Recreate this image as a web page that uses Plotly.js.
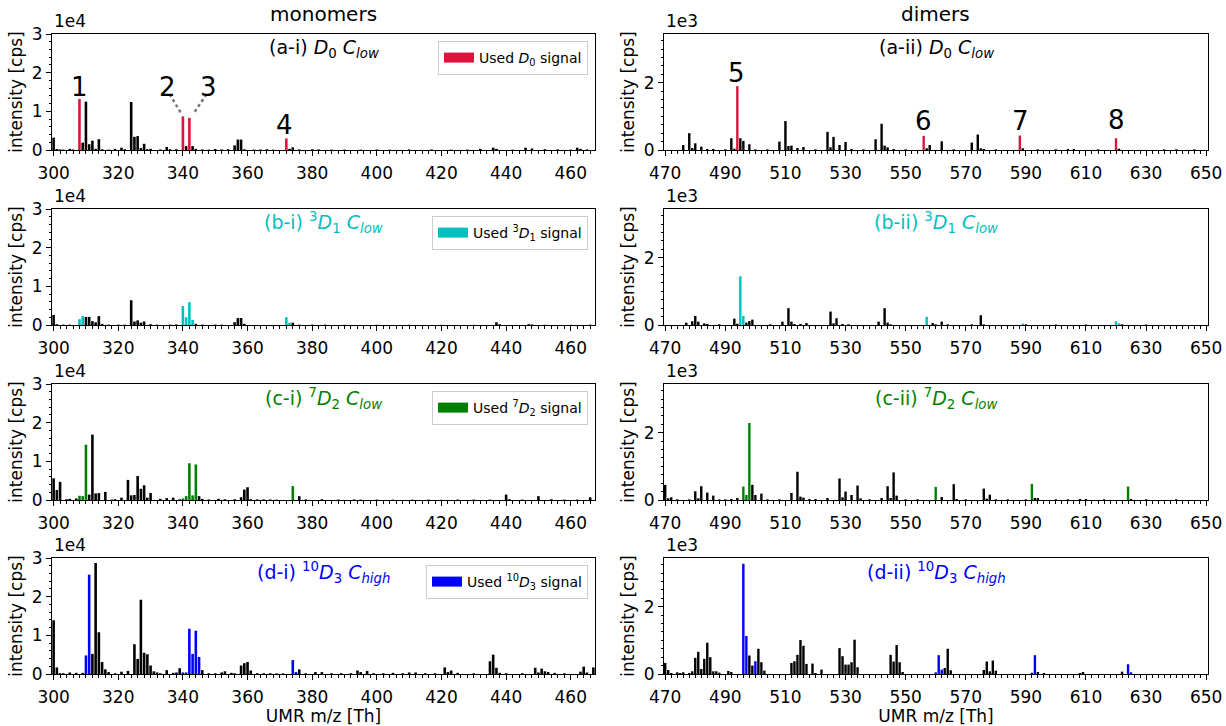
<!DOCTYPE html>
<html><head><meta charset="utf-8">
<script src="https://cdn.plot.ly/plotly-3.0.1.min.js"></script>
<style>html,body{margin:0;padding:0;background:#fff}#chart{width:1226px;height:726px}</style>
</head><body><div id="chart"></div>
<script>
// ---------------- data (UMR m/z, intensity in cps) ----------------
// (a-i) D0 Clow, monomers
const aiBlackX = [300,301,302,303,305,306,309,310,311,312,313,314,315,317,319,321,322,324,325,326,327,328,329,330,333,335,336,338,341,343,344,346,348,350,352,354,356,357,358,359,362,364,366,368,373,374,376,380,382,386,390,395,400,404,410,417,423,428,432,436,437,442,446,448,452,456,460,462,463,465];
const aiBlackY = [3200,250,150,100,300,150,1900,12500,1500,2400,300,2800,200,100,300,600,200,12400,3400,3600,500,1600,200,300,150,800,200,200,1000,1000,300,150,100,250,150,200,1200,2700,2700,200,100,150,200,100,300,700,150,200,150,100,100,100,150,100,150,150,100,100,300,600,300,100,600,400,200,150,100,600,300,150];
const aiUsedX = [308,340,342,372];
const aiUsedY = [13200,8700,8300,3000];
// (a-ii) D0 Clow, dimers
const aiiBlackX = [476,478,479,480,482,484,486,490,492,493,495,496,498,500,504,508,510,511,512,514,516,520,524,525,526,528,530,532,536,540,542,543,544,546,550,557,558,562,566,572,574,575,576,580,589,594,600,604,606,614,621,636,640,646];
const aiiBlackY = [150,500,60,200,100,30,30,20,350,40,350,270,170,20,20,250,860,120,130,60,90,20,540,80,390,150,240,30,20,320,780,130,80,30,20,50,150,260,20,220,460,50,30,20,50,20,20,30,30,20,40,20,20,20];
const aiiUsedX = [494,556,588,620];
const aiiUsedY = [1900,420,430,350];
// (b-i) 3D1 Clow, monomers
const biBlackX = [300,301,303,305,310,311,312,313,314,315,317,320,322,324,325,326,327,328,330,332,336,338,344,346,350,352,356,357,358,359,374,376,380,384,390,400,410,420,430,437,438,447,448,452,460,466];
const biBlackY = [2600,200,100,100,2100,2100,1000,700,2300,300,100,100,100,6400,900,1200,600,900,200,100,100,150,300,100,100,100,700,1800,1800,300,600,100,100,100,50,50,50,50,50,700,200,200,150,50,50,100];
const biUsedX = [308,309,340,341,342,343,372,373];
const biUsedY = [1500,2300,4900,2000,5900,1300,2000,600];
// (b-ii) 3D1 Clow, dimers
const biiBlackX = [477,479,480,481,483,484,488,493,494,497,498,499,505,509,511,512,513,515,517,525,526,527,529,531,541,543,544,545,559,560,562,564,572,575,576,590,600,610,622,630];
const biiBlackY = [70,110,270,100,50,30,20,190,40,70,120,160,20,100,500,100,30,30,60,400,50,200,30,20,100,500,70,20,60,20,100,20,20,290,20,20,15,15,20,15];
const biiUsedX = [495,496,557,589,620,621];
const biiUsedY = [1450,270,240,40,110,50];
// (c-i) 7D2 Clow, monomers
const ciBlackX = [300,301,302,304,305,307,311,312,313,314,316,318,319,321,323,324,325,326,327,328,329,330,333,335,337,339,345,346,348,351,353,356,358,359,360,361,363,365,367,369,376,378,383,388,393,395,400,405,411,416,420,425,430,435,440,441,445,450,454,458,462,466];
const ciBlackY = [5600,2600,4700,200,300,400,1400,16900,1700,1800,2100,100,200,600,5200,1200,1300,6200,2900,3800,600,1800,300,500,600,200,1000,300,150,300,200,200,700,2700,3300,200,150,150,150,100,1000,150,200,100,150,100,100,100,100,100,50,100,100,100,1400,200,100,1000,200,100,100,700];
const ciUsedX = [308,309,310,340,341,342,343,344,374];
const ciUsedY = [1100,1000,14300,400,1000,9500,1200,9200,3600];
// (c-ii) 7D2 Clow, dimers
const ciiBlackX = [470,471,472,474,478,480,481,482,484,486,488,490,492,494,499,500,502,504,508,512,514,515,516,518,520,524,528,529,530,532,534,535,538,542,544,545,546,547,550,554,562,566,567,570,576,577,578,580,584,590,593,594,600,604,608,610,616,625,630,640];
const ciiBlackY = [450,50,80,20,20,260,50,410,220,130,20,20,30,60,450,150,190,20,20,210,840,100,70,30,30,60,640,80,250,150,430,50,20,60,410,60,820,130,20,20,90,470,30,20,340,40,160,20,20,20,60,60,20,20,30,30,20,30,20,20];
const ciiUsedX = [496,497,498,560,592,624];
const ciiUsedY = [400,150,2290,390,480,400];
// (d-i) 10D3 Chigh, monomers
const diBlackX = [300,301,302,303,305,307,309,312,313,314,315,316,317,319,321,323,325,326,327,328,329,330,331,332,333,335,337,338,339,346,348,350,352,353,355,356,358,359,360,361,363,365,367,369,371,376,378,381,383,386,389,392,394,395,397,399,402,405,408,410,412,415,418,421,422,423,425,430,435,436,437,438,440,445,449,450,451,452,453,455,458,463,464,465,467];
const diBlackY = [13900,1700,200,200,400,300,300,5200,28700,10800,3100,1200,500,200,600,800,7700,3900,19200,5500,5100,2200,700,400,200,1000,300,400,1500,1000,200,200,400,700,300,200,2200,2800,3100,900,200,200,200,150,150,1200,200,500,500,200,200,200,900,500,800,200,200,300,200,400,400,200,200,1700,500,900,300,200,3300,5000,1600,300,200,200,1600,400,1400,700,500,300,200,600,1900,400,1700];
const diUsedX = [310,311,340,341,342,343,344,345,374,375];
const diUsedY = [4800,25700,400,400,11700,5200,11200,4400,3600,500];
// (d-ii) 10D3 Chigh, dimers
const diiBlackX = [470,471,472,474,475,476,478,479,480,481,482,483,484,485,486,487,488,491,492,498,499,501,502,503,512,513,514,515,516,517,519,520,522,528,529,530,531,532,533,534,545,546,547,548,549,563,564,565,576,577,578,579,580,594,596,608,609,622];
const diiBlackY = [330,120,30,50,30,50,30,80,480,660,150,450,930,500,80,80,40,90,60,550,250,750,350,100,330,380,570,1010,840,300,310,30,130,770,530,280,280,350,1020,200,570,370,860,350,60,180,750,110,120,370,80,400,100,60,30,30,60,70];
const diiUsedX = [496,497,500,560,561,562,592,593,624,625];
const diiUsedY = [3280,1130,380,50,560,130,40,560,290,50];

// tick labels
const monoTickVals = [300,320,340,360,380,400,420,440,460];
const dimerTickVals = [470,490,510,530,550,570,590,610,630,650];
const monoYTickVals = [0,10000,20000,30000];
const monoYTickText = ['0','1','2','3'];
const dimerYTickVals = [0,2000];
const dimerYTickText = ['0','2'];

// texts
const panelTitles = [
  '(a-i) <i>D</i><sub>0</sub> <i>C</i><sub><i>low</i></sub>',
  '(a-ii) <i>D</i><sub>0</sub> <i>C</i><sub><i>low</i></sub>',
  '(b-i) <sup>3</sup><i>D</i><sub>1</sub> <i>C</i><sub><i>low</i></sub>',
  '(b-ii) <sup>3</sup><i>D</i><sub>1</sub> <i>C</i><sub><i>low</i></sub>',
  '(c-i) <sup>7</sup><i>D</i><sub>2</sub> <i>C</i><sub><i>low</i></sub>',
  '(c-ii) <sup>7</sup><i>D</i><sub>2</sub> <i>C</i><sub><i>low</i></sub>',
  '(d-i) <sup>10</sup><i>D</i><sub>3</sub> <i>C</i><sub><i>high</i></sub>',
  '(d-ii) <sup>10</sup><i>D</i><sub>3</sub> <i>C</i><sub><i>high</i></sub>'
];
const legendNames = [
  'Used <i>D</i><sub>0</sub> signal',
  'Used <sup>3</sup><i>D</i><sub>1</sub> signal',
  'Used <sup>7</sup><i>D</i><sub>2</sub> signal',
  'Used <sup>10</sup><i>D</i><sub>3</sub> signal'
];
const columnTitles = ['monomers','dimers'];
const xAxisTitle = 'UMR m/z [Th]';
const yAxisTitle = 'intensity [cps]';
const peakLabels = ['1','2','3','4','5','6','7','8'];

// ---------------- figure ----------------
const FONT = '"DejaVu Sans", sans-serif';
const W = 1226, H = 726;
const rowColors = ['#DC143C','#00BFBF','#008000','#0000FF'];
const titleColors = ['#000000','#00BFBF','#008000','#0000FF'];
const colPx = [[52,595],[664,1208]];
const rowPx = [[34,150],[209,325],[384,500],[558,674]];

const data = [
  [aiBlackX, aiBlackY, aiUsedX, aiUsedY],
  [aiiBlackX, aiiBlackY, aiiUsedX, aiiUsedY],
  [biBlackX, biBlackY, biUsedX, biUsedY],
  [biiBlackX, biiBlackY, biiUsedX, biiUsedY],
  [ciBlackX, ciBlackY, ciUsedX, ciUsedY],
  [ciiBlackX, ciiBlackY, ciiUsedX, ciiUsedY],
  [diBlackX, diBlackY, diUsedX, diUsedY],
  [diiBlackX, diiBlackY, diiUsedX, diiUsedY]
];

const traces = [];
const layout = {
  width: W, height: H,
  margin: {l:0, r:0, t:0, b:0},
  paper_bgcolor: '#ffffff', plot_bgcolor: '#ffffff',
  font: {family: FONT, size: 17, color: '#000'},
  barmode: 'overlay',
  showlegend: true,
  annotations: [], shapes: []
};

data.forEach((d, i) => {
  const n = i + 1;
  const row = Math.floor(i / 2), col = i % 2;
  const xa = n === 1 ? 'x' : 'x' + n;
  const ya = n === 1 ? 'y' : 'y' + n;
  const legendId = row === 0 ? 'legend' : 'legend' + (row + 1);

  traces.push({type:'bar', x:d[0], y:d[1], xaxis:xa, yaxis:ya, width:0.8,
    marker:{color:'#000000', line:{width:0}}, showlegend:false, name:'signal'});
  traces.push({type:'bar', x:d[2], y:d[3], xaxis:xa, yaxis:ya, width:0.8,
    marker:{color:rowColors[row], line:{width:0}}, name:legendNames[row], showlegend:false});
  if (col === 0) {
    // legend key drawn as a wide colour patch (like the reference's legend handle)
    traces.push({type:'scatter', mode:'lines', x:[null], y:[null], xaxis:xa, yaxis:ya,
      line:{color:rowColors[row], width:10}, name:legendNames[row], showlegend:true, legend:legendId});
  }

  const xd = [colPx[col][0]/W, colPx[col][1]/W];
  const yd = [1 - rowPx[row][1]/H, 1 - rowPx[row][0]/H];
  const xk = n === 1 ? 'xaxis' : 'xaxis' + n;
  const yk = n === 1 ? 'yaxis' : 'yaxis' + n;
  layout[xk] = {
    domain: xd, anchor: ya,
    range: col === 0 ? [299.5, 467.5] : [469.6, 650.6],
    tickmode: 'array', tickvals: col === 0 ? monoTickVals : dimerTickVals,
    ticks: 'outside', ticklen: 5, tickwidth: 1, tickcolor: '#000',
    ticklabelstandoff: 3,
    showline: true, mirror: true, linecolor: '#000', linewidth: 1,
    showgrid: false, zeroline: false,
    tickfont: {size: 17, family: FONT},
    minor: {dtick: 2, tick0: col === 0 ? 300 : 470, ticks: 'outside', ticklen: 2.5, tickcolor: '#000', showgrid: false}
  };
  if (row === 3) layout[xk].title = {text: xAxisTitle, font: {size: 17}, standoff: 6};
  layout[yk] = {
    domain: yd, anchor: xa,
    range: col === 0 ? [0, 30000] : [0, 3450],
    tickmode: 'array',
    tickvals: col === 0 ? monoYTickVals : dimerYTickVals,
    ticktext: col === 0 ? monoYTickText : dimerYTickText,
    ticks: 'outside', ticklen: 5, tickwidth: 1, tickcolor: '#000',
    showline: true, mirror: true, linecolor: '#000', linewidth: 1,
    showgrid: false, zeroline: false,
    tickfont: {size: 17, family: FONT},
    minor: {dtick: col === 0 ? 2000 : 250, ticks: 'outside', ticklen: 2.5, tickcolor: '#000', showgrid: false},
    title: {text: yAxisTitle, font: {size: 17}, standoff: 4}
  };

  // panel title
  layout.annotations.push({xref: xa + ' domain', yref: ya + ' domain', x: 0.5, y: 1 - 14/116,
    xanchor: 'center', yanchor: 'middle', showarrow: false, text: panelTitles[i],
    font: {size: 19, color: titleColors[row]}});
  // exponent text
  layout.annotations.push({xref: 'paper', yref: 'paper', x: colPx[col][0]/W, y: 1 - (rowPx[row][0] - 1)/H,
    xanchor: 'left', yanchor: 'bottom', showarrow: false, text: col === 0 ? '1e4' : '1e3',
    font: {size: 17}});

  if (col === 0) {
    layout[legendId] = {
      x: (colPx[0][1] - 7)/W, xanchor: 'right',
      y: 1 - (rowPx[row][0] + 7)/H, yanchor: 'top',
      bgcolor: 'rgba(255,255,255,0.85)', bordercolor: '#cccccc', borderwidth: 1,
      font: {size: 14, family: FONT}, itemwidth: 30
    };
  }
});

// column titles
[0,1].forEach(c => layout.annotations.push({xref:'paper', yref:'paper',
  x: (colPx[c][0] + colPx[c][1])/2/W, y: 1 - 14/H, xanchor:'center', yanchor:'middle',
  showarrow:false, text: columnTitles[c], font:{size:20}}));

// peak number labels
const peakPos = [['x','y',308,16300],['x','y',335.3,16300],['x','y',348,16300],['x','y',371.5,6500],
                 ['x2','y2',493.8,2300],['x2','y2',556,850],['x2','y2',588.2,850],['x2','y2',620,900]];
peakPos.forEach((p, k) => layout.annotations.push({xref:p[0], yref:p[1], x:p[2], y:p[3],
  xanchor:'center', yanchor:'middle', showarrow:false, text: peakLabels[k], font:{size:26, color:'#000'}}));

// dotted leader lines for 2 and 3
layout.shapes.push({type:'line', xref:'x', yref:'y', x0:335.9, y0:14400, x1:339.6, y1:9300,
  line:{color:'#777777', width:2.5, dash:'dot'}});
layout.shapes.push({type:'line', xref:'x', yref:'y', x0:347.3, y0:14400, x1:343.2, y1:9300,
  line:{color:'#777777', width:2.5, dash:'dot'}});

Plotly.newPlot('chart', traces, layout, {displayModeBar:false, staticPlot:true});
</script></body></html>
